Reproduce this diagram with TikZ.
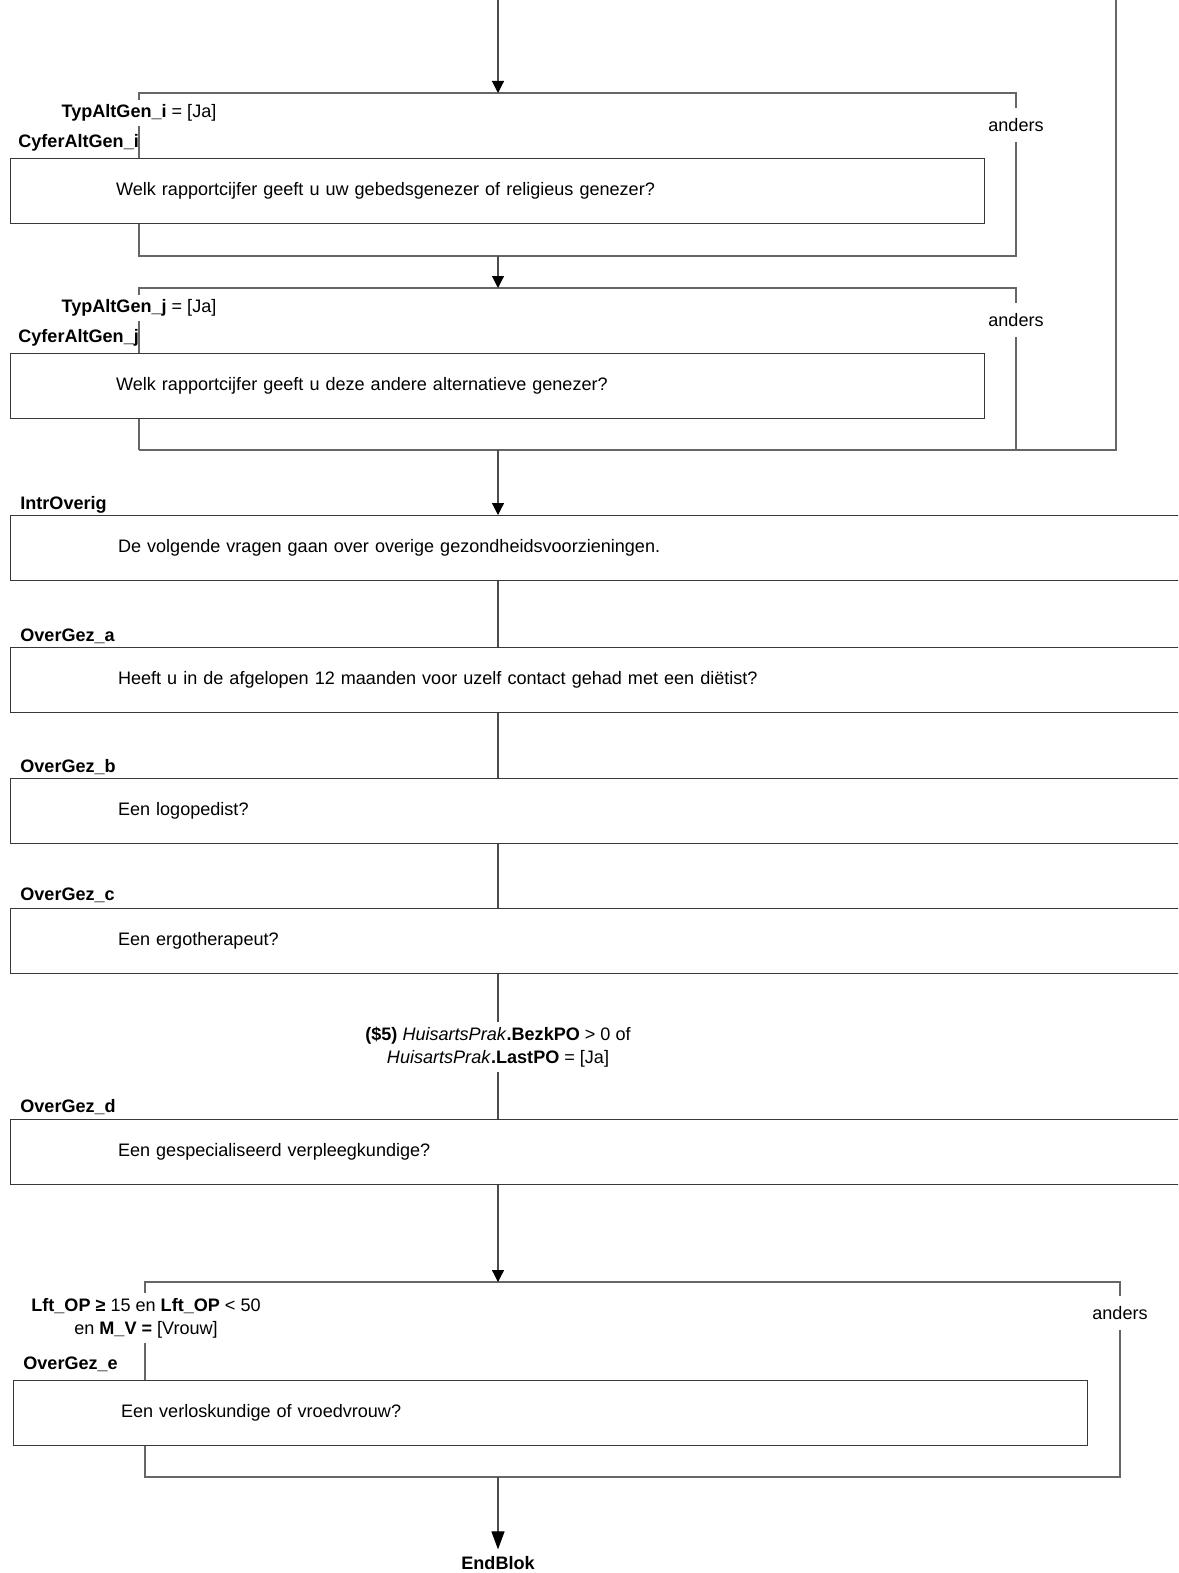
\documentclass[tikz,border=0pt]{standalone}
\usepackage{fontspec}
\setmainfont{Liberation Sans}
\usetikzlibrary{arrows.meta}
\definecolor{framec}{gray}{0.4}
\definecolor{boxc}{gray}{0.22}
\definecolor{connc}{gray}{0.3}
\begin{document}
\begin{tikzpicture}[x=0.5pt,y=-0.5pt,
  every node/.style={font=\fontsize{9.03}{11.5}\selectfont},
  frame/.style={draw=framec, line width=0.6pt},
  conn/.style={draw=connc, line width=0.6pt},
  arr/.style={conn, -{Triangle[length=6pt,width=6pt,color=black]}},
  bigarr/.style={conn, -{Triangle[length=9pt,width=6.5pt,color=black]}},
  qbox/.style={draw=boxc, fill=white, line width=0.65pt, anchor=north west,
    minimum height=32.5pt, inner ysep=0pt, align=left},
  narrowq/.style={qbox, inner xsep=52.75pt, text width=381.5pt},
  wideq/.style={qbox, inner xsep=53.7pt, text width=482.6pt},
  lbl/.style={anchor=base west, inner sep=0pt, font=\fontsize{9.03}{11.5}\selectfont\bfseries},
  cond/.style={fill=white, inner xsep=0.5pt, inner ysep=2.5pt, align=center},
  anders/.style={fill=white, inner xsep=0.5pt, inner ysep=5pt}
]
\useasboundingbox (0,0) rectangle (1178,1573);
\clip (0,0) rectangle (1178,1573);

% coordinates
\coordinate (top) at (498,0);
\coordinate (topR) at (1116,0);
\coordinate (f1in) at (498,93);
\coordinate (f1out) at (498,256);
\coordinate (f2in) at (498,288);
\coordinate (f2out) at (498,450);
\coordinate (f3in) at (498,1282);
\coordinate (f3out) at (498,1477);

% frames
\draw[frame] (139,256) -- (139,93) -- (1016,93) -- (1016,256) -- cycle;
\draw[frame] (139,450) -- (139,288) -- (1016,288) -- (1016,450);
\draw[frame] (topR) -- (1116,450) -- (139,450);
\draw[frame] (145,1282) rectangle (1120,1477);

% question boxes
\node[narrowq] (q1) at (10,158) {Welk rapportcijfer geeft u uw gebedsgenezer of religieus genezer?};
\node[narrowq] (q2) at (10,353) {Welk rapportcijfer geeft u deze andere alternatieve genezer?};
\node[wideq] (intro) at (10,515) {De volgende vragen gaan over overige gezondheidsvoorzieningen.};
\node[wideq] (ogA) at (10,647) {Heeft u in de afgelopen 12 maanden voor uzelf contact gehad met een diëtist?};
\node[wideq] (ogB) at (10,778) {Een logopedist?};
\node[wideq] (ogC) at (10,908) {Een ergotherapeut?};
\node[wideq] (ogD) at (10,1119) {Een gespecialiseerd verpleegkundige?};
\node[qbox, inner xsep=53.7pt, text width=429.6pt] (ogE) at (13,1380) {Een verloskundige of vroedvrouw?};

% connectors
\draw[arr] (top) -- (f1in);
\draw[arr] (f1out) -- (f2in);
\draw[arr] (f2out) -- (f2out |- intro.north);
\draw[conn] (intro.south -| top) -- (ogA.north -| top);
\draw[conn] (ogA.south -| top) -- (ogB.north -| top);
\draw[conn] (ogB.south -| top) -- (ogC.north -| top);
\draw[conn] (ogC.south -| top) -- (ogD.north -| top);
\draw[arr] (ogD.south -| top) -- (f3in);

% labels
\node[lbl] (lIntro) at (20,509.5) {IntrOverig};
\node[lbl] (lA) at (20,641.5) {OverGez\_a};
\node[lbl] (lB) at (20,772.5) {OverGez\_b};
\node[lbl] (lC) at (20,900.5) {OverGez\_c};
\node[lbl] (lD) at (20,1112.5) {OverGez\_d};
\node[lbl] (lE) at (23,1369) {OverGez\_e};
\node[lbl] (lCi) at (18,147.5) {CyferAltGen\_i};
\node[lbl] (lCj) at (18,342.5) {CyferAltGen\_j};

% conditions
\node[cond] (c1) at (139,113) {\textbf{TypAltGen\_i} = [Ja]};
\node[cond] (c2) at (139,308) {\textbf{TypAltGen\_j} = [Ja]};
\node[cond] (c5) at (498,1047) {\textbf{(\$5)} \textit{HuisartsPrak}\textbf{.BezkPO} > 0 of\\\textit{HuisartsPrak}\textbf{.LastPO} = [Ja]};
\node[cond] (c3) at (146,1318) {\textbf{Lft\_OP ≥} 15 en \textbf{Lft\_OP} < 50\\en \textbf{M\_V =} [Vrouw]};

\node[anders] (a1) at (1016,125) {anders};
\node[anders] (a2) at (1016,320) {anders};
\node[anders] (a3) at (1120,1313) {anders};

% end
\node[font=\fontsize{9.03}{11.5}\selectfont\bfseries, inner sep=3.3pt] (endblok) at (498,1563) {EndBlok};
\draw[bigarr] (f3out) -- (endblok.north);
\end{tikzpicture}
\end{document}
